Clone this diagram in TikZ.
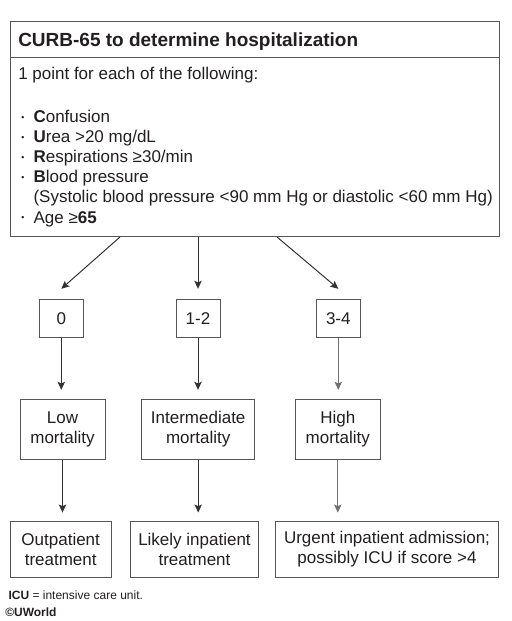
\documentclass[tikz,border=0pt]{standalone}
\usepackage{fontspec}
\setmainfont{Liberation Sans}
\usetikzlibrary{arrows.meta,calc}
\definecolor{txt}{HTML}{231F20}
\definecolor{boxc}{HTML}{555555}
\definecolor{arrc}{HTML}{333333}
\definecolor{arrl}{HTML}{707070}
\begin{document}
\begin{tikzpicture}[x=0.75pt,y=-0.75pt,
  box/.style={draw=boxc, line width=0.75pt, inner sep=0pt, align=center, text=txt,
    font=\fontsize{12.75}{15.4}\selectfont},
  txtline/.style={anchor=base west, inner sep=0pt, text=txt, font=\fontsize{12.75}{15}\selectfont},
  bul/.style={anchor=center, inner sep=0pt, text=txt, font=\fontsize{6.5}{7}\selectfont},
  foot/.style={anchor=base west, inner sep=0pt, text=txt, font=\fontsize{9}{11}\selectfont},
  arr/.style={draw=arrc, line width=0.75pt, -{Stealth[length=6pt,width=5.5pt,inset=1.2pt]}},
  arrlight/.style={arr, draw=arrl}
]
\useasboundingbox (0,0) rectangle (511,621);
\fill[white] (0,0) rectangle (511,621);

% criteria box
\node[box, minimum width=366.75pt, minimum height=161.25pt] (crit) at (254.5,129.2) {};
\coordinate (sepL) at (10,57);
\coordinate (sepR) at (499,57);
\draw[draw=boxc, line width=0.75pt] (sepL) -- (sepR);

\node[txtline, font=\fontsize{14.25}{17}\selectfont\bfseries] (title) at (18,46.7) {CURB-65 to determine hospitalization};
\node[txtline] (intro) at (18,79.5) {1 point for each of the following:};

\node[bul] (b1) at (23,118.2) {•};
\node[txtline] (l1) at (33.3,122.5) {\textbf{C}onfusion};
\node[bul] (b2) at (23,138.3) {•};
\node[txtline] (l2) at (33.3,142.6) {\textbf{U}rea >20 mg/dL};
\node[bul] (b3) at (23,158.4) {•};
\node[txtline] (l3) at (33.3,162.7) {\textbf{R}espirations ≥30/min};
\node[bul] (b4) at (23,178.5) {•};
\node[txtline] (l4) at (33.3,182.8) {\textbf{B}lood pressure};
\node[txtline] (l5) at (33.3,202.9) {(Systolic blood pressure <90 mm Hg or diastolic <60 mm Hg)};
\node[bul] (b6) at (23,218.7) {•};
\node[txtline] (l6) at (33.3,223) {Age ≥\textbf{65}};

% score boxes
\node[box, minimum width=33pt, minimum height=28.8pt] (s0) at (61.3,318.5) {0};
\node[box, minimum width=33pt, minimum height=28.8pt] (s1) at (198,318.5) {1-2};
\node[box, minimum width=33pt, minimum height=28.8pt] (s2) at (338.3,318.5) {3-4};

% mortality boxes
\node[box, minimum width=63.75pt, minimum height=44.8pt] (m0) at (62.5,429.2) {Low\\mortality};
\node[box, minimum width=84.75pt, minimum height=44.8pt] (m1) at (198.2,429.2) {Intermediate\\mortality};
\node[box, minimum width=63.75pt, minimum height=44.8pt] (m2) at (337.8,429.2) {High\\mortality};

% treatment boxes
\node[box, minimum width=75.5pt, minimum height=42.2pt] (t0) at (60.7,549.2) {Outpatient\\treatment};
\node[box, minimum width=96.3pt, minimum height=42.2pt] (t1) at (194.5,549.2) {Likely inpatient\\treatment};
\node[box, minimum width=167.55pt, minimum height=42.2pt] (t2) at (387,549.2) {Urgent inpatient admission;\\possibly ICU if score >4};

% connectors
\coordinate (c0) at (120,237);
\coordinate (c1) at (198,237);
\coordinate (c2) at (277,237);
\draw[arr] (c0) -- ($(s0.north)+(0,-10)$);
\draw[arr] (c1) -- ($(s1.north)+(0,-10)$);
\draw[arr] (c2) -- ($(s2.north)+(0,-10)$);

\draw[arr] (s0.south) -- ($(s0.south |- m0.north)+(0,-9)$);
\draw[arr] (s1.south) -- ($(s1.south |- m1.north)+(0,-9)$);
\draw[arrlight] (s2.south) -- ($(s2.south |- m2.north)+(0,-9)$);

\draw[arr] (m0.south) -- ($(m0.south |- t0.north)+(0,-8)$);
\draw[arr] (m1.south) -- ($(m1.south |- t1.north)+(0,-8)$);
\draw[arrlight] (m2.south) -- ($(m2.south |- t2.north)+(0,-8)$);

% footnotes
\node[foot] (fn) at (8.3,599.3) {\textbf{ICU} = intensive care unit.};
\node[foot] (copy) at (5,616) {\textbf{©UWorld}};
\end{tikzpicture}
\end{document}
